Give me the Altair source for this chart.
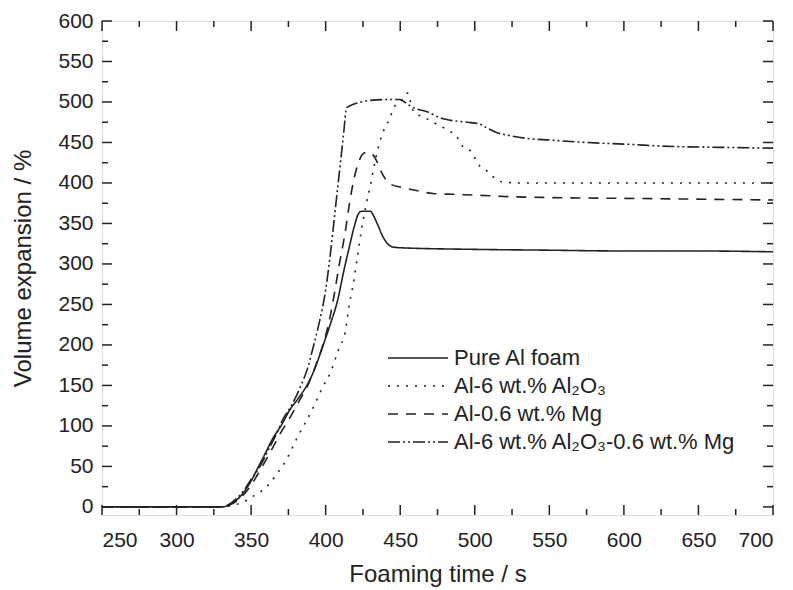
import altair as alt
import pandas as pd

series_names = ["Pure Al foam", "Al-6 wt.% Al₂O₃", "Al-0.6 wt.% Mg", "Al-6 wt.% Al₂O₃-0.6 wt.% Mg"]

time_pure = [250, 330, 335, 340, 345, 350, 355, 360, 365, 370, 376, 382, 388, 393, 398, 403, 408, 412, 416, 419, 422, 424, 430, 432, 435, 438, 441, 445, 450, 500, 550, 600, 650, 700]
exp_pure = [0, 0, 2, 8, 18, 32, 50, 68, 86, 100, 120, 135, 152, 172, 198, 225, 255, 290, 322, 345, 362, 365, 365, 360, 348, 335, 326, 321, 320, 318, 317, 316, 316, 315]

time_al2o3 = [250, 330, 335, 340, 345, 349, 356, 362, 367, 373, 381, 391, 398, 403, 409, 413, 416, 418, 421, 424, 427, 430, 432, 436, 439, 443, 446, 450, 455, 458, 460, 465, 472, 482, 488, 492, 498, 502, 508, 512, 519, 530, 600, 700]
exp_al2o3 = [0, 0, 1, 3, 6, 11, 18, 28, 40, 56, 86, 120, 148, 165, 196, 215, 252, 270, 305, 342, 372, 397, 416, 449, 465, 480, 494, 500, 511, 492, 486, 482, 475, 465, 457, 445, 438, 424, 415, 408, 401, 400, 400, 400]

time_mg = [250, 330, 335, 340, 345, 350, 355, 360, 365, 370, 376, 382, 388, 394, 399, 403, 406, 409, 413, 416, 419, 422, 425, 428, 431, 434, 437, 440, 444, 450, 460, 472, 485, 500, 525, 550, 600, 650, 700]
exp_mg = [0, 0, 2, 7, 15, 27, 42, 58, 75, 92, 110, 130, 150, 178, 205, 235, 265, 298, 338, 375, 405, 425, 436, 438, 436, 428, 415, 405, 398, 395, 391, 387, 386, 385, 383, 382, 381, 380, 379]

time_mix = [250, 330, 335, 340, 345, 350, 356, 362, 367, 371, 377, 383, 388, 392, 396, 400, 403, 406, 409, 412, 414, 416, 420, 430, 440, 450, 455, 460, 468, 476, 485, 495, 503, 508, 515, 522, 535, 550, 575, 600, 633, 665, 700]
exp_mix = [0, 0, 3, 10, 20, 34, 50, 72, 90, 107, 125, 148, 172, 200, 230, 268, 310, 360, 410, 460, 493, 495, 498, 502, 503, 503, 497, 492, 488, 481, 477, 475, 473, 468, 462, 459, 455, 453, 450, 448, 445, 444, 443]

x_major = [250, 300, 350, 400, 450, 500, 550, 600, 650, 700]
x_minor = [275, 325, 375, 425, 475, 525, 575, 625, 675]
y_major = [0, 50, 100, 150, 200, 250, 300, 350, 400, 450, 500, 550, 600]
y_minor = [25, 75, 125, 175, 225, 275, 325, 375, 425, 475, 525, 575]

frames = []
for name, ts, ys in zip(series_names,
                        [time_pure, time_al2o3, time_mg, time_mix],
                        [exp_pure, exp_al2o3, exp_mg, exp_mix]):
    frames.append(pd.DataFrame({"time": ts, "expansion": ys, "series": name}))
df = pd.concat(frames, ignore_index=True)

W, H = 671, 494
INK = "#222222"
FONT = "Liberation Sans"
DASHES = [[1, 0], [2, 7], [10, 8], [12, 3, 2, 3, 2, 3]]

xscale = alt.Scale(domain=[250, 700], nice=False, zero=False)
yscale = alt.Scale(domain=[-10, 600], nice=False, zero=False)

lines = alt.Chart(df).mark_line(strokeWidth=1.6, color=INK, interpolate="monotone").encode(
    x=alt.X("time:Q", scale=xscale,
            axis=alt.Axis(values=x_major, title="Foaming time / s", ticks=False, domain=False, grid=False,
                          labelFontSize=21, titleFontSize=24, labelPadding=14, titlePadding=12,
                          labelColor=INK, titleColor=INK, titleFontWeight="normal", labelFont=FONT, titleFont=FONT)),
    y=alt.Y("expansion:Q", scale=yscale,
            axis=alt.Axis(values=y_major, title="Volume expansion / %", ticks=False, domain=False, grid=False,
                          labelFontSize=21, titleFontSize=24, labelPadding=9, titlePadding=22,
                          labelColor=INK, titleColor=INK, titleFontWeight="normal", labelFont=FONT, titleFont=FONT)),
    strokeDash=alt.StrokeDash("series:N", scale=alt.Scale(domain=series_names, range=DASHES), legend=None),
)

def xticks(vals, length):
    d = pd.DataFrame({"time": vals})
    bottom = alt.Chart(d).mark_rule(color=INK, strokeWidth=1.5).encode(
        x=alt.X("time:Q", scale=xscale), y=alt.value(H), y2=alt.value(H - length))
    top = alt.Chart(d).mark_rule(color=INK, strokeWidth=1.5).encode(
        x=alt.X("time:Q", scale=xscale), y=alt.value(0), y2=alt.value(length))
    return [bottom, top]

def yticks(vals, length):
    d = pd.DataFrame({"expansion": vals})
    left = alt.Chart(d).mark_rule(color=INK, strokeWidth=1.5).encode(
        y=alt.Y("expansion:Q", scale=yscale), x=alt.value(0), x2=alt.value(length))
    right = alt.Chart(d).mark_rule(color=INK, strokeWidth=1.5).encode(
        y=alt.Y("expansion:Q", scale=yscale), x=alt.value(W), x2=alt.value(W - length))
    return [left, right]

# hand-placed legend (pixel layout inside the plot area)
LEG_X0, LEG_X1, LEG_TEXT_X = 286, 346, 352
LEG_ROW_Y = [337, 365, 393, 421]
legend_layers = []
for name, dash, ry in zip(series_names, DASHES, LEG_ROW_Y):
    d = pd.DataFrame({"series": [name]})
    legend_layers.append(
        alt.Chart(d).mark_rule(color=INK, strokeWidth=1.5, strokeDash=dash).encode(
            x=alt.value(LEG_X0), x2=alt.value(LEG_X1), y=alt.value(ry)))
    legend_layers.append(
        alt.Chart(d).mark_text(align="left", baseline="middle", font=FONT, fontSize=22, color=INK).encode(
            x=alt.value(LEG_TEXT_X), y=alt.value(ry), text=alt.Text("series:N")))

layers = ([lines] + xticks(x_major, 10) + xticks(x_minor, 6) + yticks(y_major, 10) + yticks(y_minor, 6)
          + legend_layers)

chart = alt.layer(*layers).properties(
    width=W, height=H,
    autosize=alt.AutoSizeParams(type="none"),
    padding={"left": 102, "top": 21, "right": 20, "bottom": 75},
).configure_view(stroke=INK, strokeWidth=1.5).configure(background="white")

chart.save("out.html", embed_options={"renderer": "svg", "actions": False})
